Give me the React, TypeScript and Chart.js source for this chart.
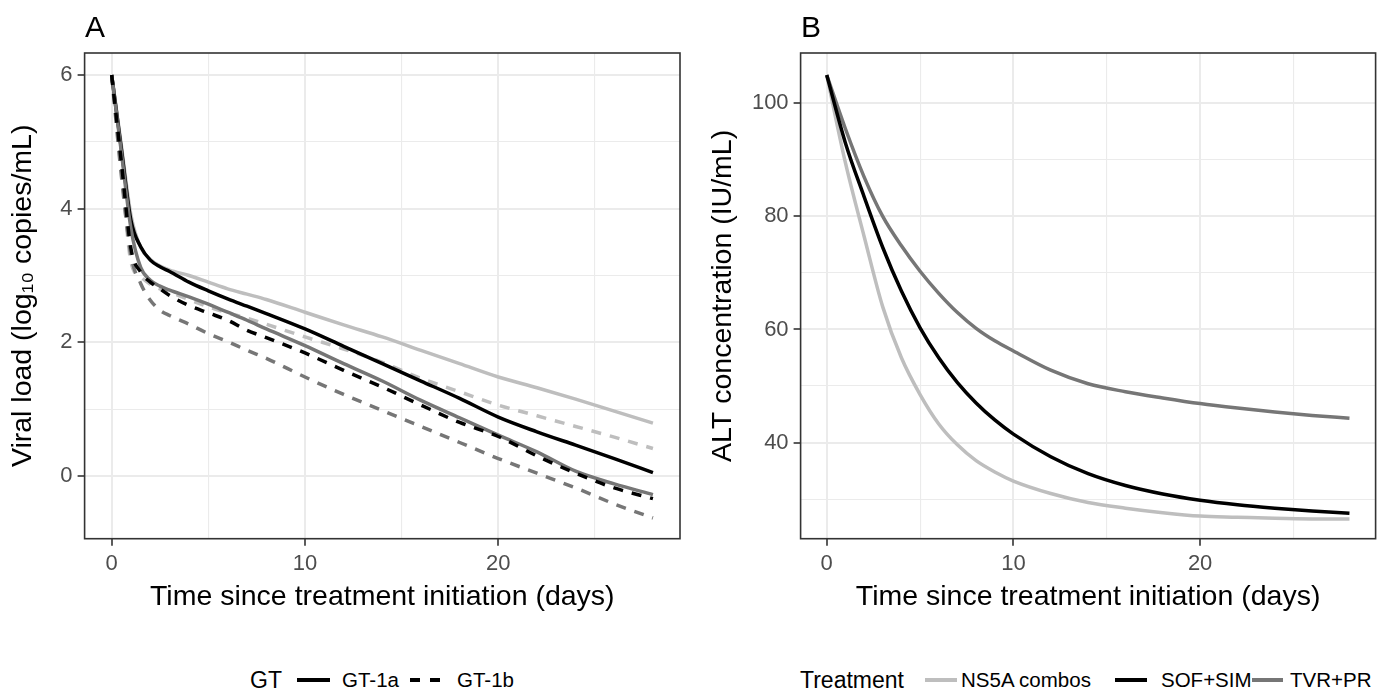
import React, { useEffect, useRef } from "react";
import { Chart, registerables } from "chart.js";

Chart.register(...registerables);

// ---------- Panel A data (viral load, log10 copies/mL) ----------
const daysA = [0, 0.5, 1, 1.5, 2, 2.5, 3, 4, 5, 6, 7, 8, 10, 12, 14, 16, 18, 20, 22, 24, 26, 28];
const ns5a1a = [6.0, 4.95, 3.9, 3.42, 3.24, 3.14, 3.08, 3.0, 2.9, 2.8, 2.72, 2.64, 2.45, 2.26, 2.08, 1.88, 1.68, 1.48, 1.32, 1.15, 0.97, 0.79];
const sofsim1a = [6.0, 4.9, 3.82, 3.43, 3.23, 3.13, 3.06, 2.9, 2.77, 2.65, 2.54, 2.43, 2.2, 1.94, 1.68, 1.42, 1.16, 0.88, 0.66, 0.46, 0.26, 0.05];
const tvrpr1a = [6.0, 4.85, 3.7, 3.12, 2.93, 2.84, 2.78, 2.68, 2.57, 2.45, 2.33, 2.2, 1.95, 1.68, 1.42, 1.13, 0.87, 0.61, 0.36, 0.07, -0.12, -0.28];
const ns5a1b = [6.0, 4.6, 3.2, 2.98, 2.87, 2.8, 2.75, 2.64, 2.53, 2.44, 2.36, 2.27, 2.08, 1.9, 1.7, 1.46, 1.26, 1.06, 0.9, 0.74, 0.58, 0.41];
const sofsim1b = [6.0, 4.7, 3.4, 3.05, 2.9, 2.8, 2.7, 2.55, 2.44, 2.33, 2.18, 2.07, 1.84, 1.58, 1.33, 1.06, 0.8, 0.59, 0.3, 0.04, -0.18, -0.34];
const tvrpr1b = [6.0, 4.5, 3.3, 2.88, 2.63, 2.48, 2.4, 2.27, 2.13, 2.01, 1.88, 1.76, 1.48, 1.22, 0.98, 0.74, 0.5, 0.26, 0.04, -0.18, -0.42, -0.63];

// ---------- Panel B data (ALT, IU/mL) ----------
const daysB = [0, 1, 2, 3, 4, 5, 6, 7, 8, 9, 10, 12, 14, 16, 18, 20, 22, 24, 26, 28];
const ns5aB = [105, 89.5, 76.5, 64.0, 55.0, 48.5, 43.3, 39.6, 36.8, 34.8, 33.2, 31.0, 29.4, 28.4, 27.6, 27.0, 26.8, 26.6, 26.5, 26.5];
const sofsimB = [105, 93, 83.5, 74.5, 66.8, 60.3, 55.0, 50.6, 47.0, 44.0, 41.5, 37.5, 34.5, 32.4, 30.9, 29.8, 29.0, 28.4, 27.9, 27.5];
const tvrprB = [105, 95.5, 87, 80, 74.8, 70.3, 66.4, 63.0, 60.2, 58.0, 56.2, 52.8, 50.4, 49.0, 47.9, 46.9, 46.1, 45.4, 44.8, 44.3];

// ---------- Ticks ----------
const xTickValues = [0, 5, 10, 15, 20, 25];
const xTickLabels = [0, 10, 20];
const yTickValuesA = [0, 1, 2, 3, 4, 5, 6];
const yTickLabelsA = [0, 2, 4, 6];
const yTickValuesB = [30, 40, 50, 60, 70, 80, 90, 100];
const yTickLabelsB = [40, 60, 80, 100];

const treatments = ["NS5A combos", "SOF+SIM", "TVR+PR"];
const genotypes = ["GT-1a", "GT-1b"];

const LIGHT = "#BEBEBE";
const BLACK = "#000000";
const DARK = "#767676";
const FONT = "'Liberation Sans', Arial, 'DejaVu Sans', sans-serif";

const toPoints = (xs: number[], ys: number[]) => xs.map((x, i) => ({ x, y: ys[i] }));

const borderPlugin = {
  id: "panelBorder",
  afterDraw(chart: any) {
    const { ctx, chartArea: a } = chart;
    ctx.save();
    ctx.strokeStyle = "#333333";
    ctx.lineWidth = 1.6;
    ctx.strokeRect(a.left, a.top, a.right - a.left, a.bottom - a.top);
    ctx.restore();
  },
};

function makeScale(
  min: number,
  max: number,
  values: number[],
  labels: number[],
  title: string,
  isX: boolean,
  fitSize: number
) {
  return {
    type: "linear",
    min,
    max,
    afterBuildTicks: (s: any) => {
      s.ticks = values.map((v) => ({ value: v }));
    },
    afterFit: (s: any) => {
      if (isX) s.height = fitSize;
      else s.width = fitSize;
    },
    ticks: {
      autoSkip: false,
      maxRotation: 0,
      padding: 5,
      color: "#4D4D4D",
      font: { family: FONT, size: 22 },
      callback: (v: number) => (labels.includes(v) ? String(v) : ""),
    },
    grid: {
      color: "#EBEBEB",
      lineWidth: (c: any) => (c.tick && labels.includes(c.tick.value) ? 2 : 1.1),
      drawTicks: true,
      tickLength: 7,
      tickWidth: 1.6,
      tickColor: (c: any) => (c.tick && labels.includes(c.tick.value) ? "#333333" : "rgba(0,0,0,0)"),
    },
    border: { display: false },
    title: {
      display: true,
      text: title,
      color: "#000000",
      font: { family: FONT, size: 28.5, lineHeight: 1.2 },
      padding: isX ? { top: 0, bottom: 26 } : { top: 6, bottom: 0 },
    },
  };
}

function useChart(ref: React.RefObject<HTMLCanvasElement>, build: () => any) {
  useEffect(() => {
    if (!ref.current) return;
    const chart = new Chart(ref.current, build());
    return () => chart.destroy();
  }, []);
}

function lineDs(label: string, xs: number[], ys: number[], color: string, dashed: boolean) {
  return {
    label,
    data: toPoints(xs, ys),
    borderColor: color,
    backgroundColor: color,
    borderWidth: 3.5,
    borderDash: dashed ? [10, 9] : [],
    borderCapStyle: "butt",
    pointRadius: 0,
    cubicInterpolationMode: "monotone",
    fill: false,
  };
}

export default function App() {
  const refA = useRef<HTMLCanvasElement>(null);
  const refB = useRef<HTMLCanvasElement>(null);

  useChart(refA, () => ({
    type: "line",
    data: {
      datasets: [
        lineDs(`${treatments[1]} ${genotypes[1]}`, daysA, sofsim1b, BLACK, true),
        lineDs(`${treatments[2]} ${genotypes[0]}`, daysA, tvrpr1a, DARK, false),
        lineDs(`${treatments[1]} ${genotypes[0]}`, daysA, sofsim1a, BLACK, false),
        lineDs(`${treatments[0]} ${genotypes[0]}`, daysA, ns5a1a, LIGHT, false),
        lineDs(`${treatments[2]} ${genotypes[1]}`, daysA, tvrpr1b, DARK, true),
        lineDs(`${treatments[0]} ${genotypes[1]}`, daysA, ns5a1b, LIGHT, true),
      ],
    },
    options: {
      responsive: false,
      animation: false,
      layout: { padding: { top: 53, right: 10, bottom: 0, left: 0 } },
      plugins: { legend: { display: false }, tooltip: { enabled: false }, title: { display: false } },
      scales: {
        x: makeScale(-1.4, 29.4, xTickValues, xTickLabels, "Time since treatment initiation (days)", true, 101.3),
        y: makeScale(-0.94, 6.33, yTickValuesA, yTickLabelsA, "Viral load (log\u2081\u2080 copies/mL)", false, 84.6),
      },
    },
    plugins: [borderPlugin],
  }));

  useChart(refB, () => ({
    type: "line",
    data: {
      datasets: [
        lineDs(treatments[1], daysB, sofsimB, BLACK, false),
        lineDs(treatments[2], daysB, tvrprB, DARK, false),
        lineDs(treatments[0], daysB, ns5aB, LIGHT, false),
      ],
    },
    options: {
      responsive: false,
      animation: false,
      layout: { padding: { top: 53, right: 22.4, bottom: 0, left: 0 } },
      plugins: { legend: { display: false }, tooltip: { enabled: false }, title: { display: false } },
      scales: {
        x: makeScale(-1.4, 29.4, xTickValues, xTickLabels, "Time since treatment initiation (days)", true, 101.3),
        y: makeScale(23.0, 108.9, yTickValuesB, yTickLabelsB, "ALT concentration (IU/mL)", false, 100.6),
      },
    },
    plugins: [borderPlugin],
  }));

  const abs = (left: number, top: number, extra: any = {}) => ({
    position: "absolute" as const,
    left,
    top,
    ...extra,
  });
  const txt = (fs: number, centerY: number) => ({
    fontSize: fs,
    lineHeight: `${fs}px`,
    top: centerY - 0.4865 * fs,
    whiteSpace: "nowrap" as const,
  });
  const keyLine = (left: number, width: number, color: string, dashed = false) => (
    <div
      style={abs(left, 678, {
        width,
        height: 4,
        background: dashed
          ? `repeating-linear-gradient(to right, ${color} 0px, ${color} 10px, transparent 10px, transparent 20px)`
          : color,
      })}
    />
  );

  return (
    <div
      style={{
        position: "absolute",
        left: 0,
        top: 0,
        width: 1398,
        height: 689,
        background: "#FFFFFF",
        fontFamily: FONT,
        color: "#000",
        overflow: "hidden",
      }}
    >
      <canvas ref={refA} width={690} height={640} style={abs(0, 0, { width: 690, height: 640 })} />
      <canvas ref={refB} width={698} height={640} style={abs(700, 0, { width: 698, height: 640 })} />

      <div style={{ ...abs(85, 0), ...txt(30, 26.5) }}>A</div>
      <div style={{ ...abs(801, 0), ...txt(30, 26.5) }}>B</div>

      {/* Legend A: GT */}
      <div style={{ ...abs(250, 0), ...txt(23, 680) }}>GT</div>
      {keyLine(297, 33, BLACK)}
      <div style={{ ...abs(342, 0), ...txt(20.5, 680) }}>{genotypes[0]}</div>
      {keyLine(410, 30, BLACK, true)}
      <div style={{ ...abs(457, 0), ...txt(20.5, 680) }}>{genotypes[1]}</div>

      {/* Legend B: Treatment */}
      <div style={{ ...abs(800, 0), ...txt(23, 680) }}>Treatment</div>
      {keyLine(925, 32, LIGHT)}
      <div style={{ ...abs(961, 0), ...txt(20.5, 680) }}>{treatments[0]}</div>
      {keyLine(1115, 32, BLACK)}
      <div style={{ ...abs(1161, 0), ...txt(20.5, 680) }}>{treatments[1]}</div>
      {keyLine(1252, 31, DARK)}
      <div style={{ ...abs(1290, 0), ...txt(20.5, 680) }}>{treatments[2]}</div>
    </div>
  );
}
